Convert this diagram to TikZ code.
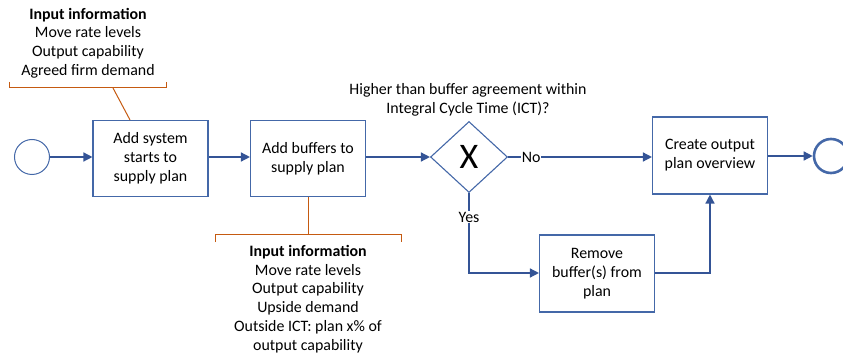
\documentclass[tikz,border=0pt]{standalone}
\usepackage{fontspec}
\setmainfont{Carlito}
\usetikzlibrary{arrows.meta,shapes.geometric}
\definecolor{boxblue}{RGB}{68,104,168}
\definecolor{lineblue}{RGB}{52,84,150}
\definecolor{noteorange}{RGB}{197,90,17}
\begin{document}
\begin{tikzpicture}[x=1pt,y=-1pt,
  txt/.style={font=\fontsize{15.9}{18.8}\selectfont, align=center},
  procbox/.style={txt, draw=boxblue, line width=1.1pt, minimum width=115pt, minimum height=76pt, inner sep=2pt},
  flow/.style={draw=lineblue, line width=1.4pt, -{Triangle[length=9pt,width=9pt]}},
  note/.style={draw=noteorange, line width=1pt},
  lbl/.style={txt, fill=white, inner sep=1pt}]
\useasboundingbox (0,0) rectangle (843,358);

% events
\node[circle, draw=boxblue, line width=1pt, minimum size=35pt, inner sep=0] (start) at (32,157) {};
\node[circle, draw=boxblue, line width=2.6pt, minimum size=34pt, inner sep=0] (stop) at (831,156) {};

% activities
\node[procbox] (b1) at (150.5,158.5) {Add system\\starts to\\supply plan};
\node[procbox] (b2) at (308,158.5) {Add buffers to\\supply plan};
\node[procbox, minimum height=77pt] (b3) at (710,155.5) {Create output\\plan overview};
\node[procbox, minimum height=77pt] (b4) at (597,273.5) {Remove\\buffer(s) from\\plan};

% gateway
\node[diamond, draw=boxblue, line width=1.1pt, minimum width=77pt, minimum height=71pt, inner sep=0, aspect=1.08,
      font=\fontsize{36}{36}\selectfont] (gw) at (469,157) {X};
\node[txt] (q) at (468,100) {Higher than buffer agreement within\\Integral Cycle Time (ICT)?};

% sequence flows
\draw[flow] (start) -- (start -| b1.west);
\draw[flow] (b1.east |- start) -- (b2.west |- start);
\draw[flow] (b2.east |- start) -- (gw.west);
\draw[flow] (gw.east) -- (b3.west |- gw.east) node[lbl, pos=0.16] (no) {No};
\coordinate (yb) at (469,273);
\draw[flow] (gw.south) -- (yb) -- (b4.west |- yb);
\node[lbl] (yes) at (469,217) {Yes};
\coordinate (ub) at (710,273);
\draw[flow] (b4.east |- ub) -- (ub) -- (b3.south);
\draw[flow] (b3.east |- stop) -- (stop.west);

% input annotations
\coordinate (ta) at (9,82);
\coordinate (tb) at (166,82);
\coordinate (tc) at (113,88);
\draw[note] (ta) -- (9,88) -- (166,88) -- (tb);
\draw[note] (tc) -- ([xshift=-20.5pt]b1.north);
\node[txt] (info1) at (88,43) {\textbf{Input information}\\Move rate levels\\Output capability\\Agreed firm demand};

\coordinate (ba) at (215,242);
\coordinate (bb) at (401,242);
\coordinate (bc) at (308,234);
\draw[note] (b2.south) -- (bc);
\draw[note] (ba) -- (215,234) -- (401,234) -- (bb);
\node[txt] (info2) at (308,299) {\textbf{Input information}\\Move rate levels\\Output capability\\Upside demand\\Outside ICT: plan x\% of\\output capability};
\end{tikzpicture}
\end{document}
